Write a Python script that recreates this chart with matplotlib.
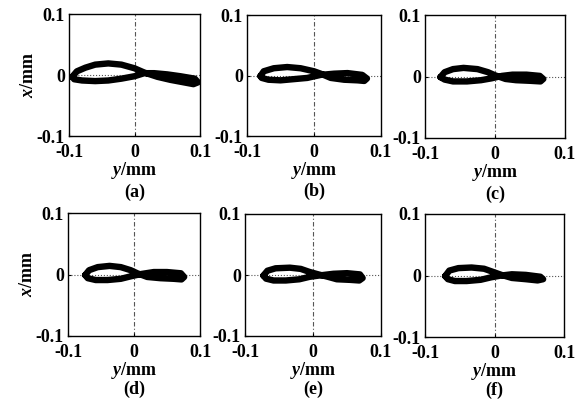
import matplotlib
matplotlib.use("Agg")
import matplotlib.pyplot as plt

plt.rcParams['font.family'] = ['Liberation Serif', 'DejaVu Serif']
plt.rcParams['font.weight'] = 'bold'
plt.rcParams['mathtext.fontset'] = 'custom'
plt.rcParams['mathtext.it'] = 'Liberation Serif:italic:bold'
plt.rcParams['mathtext.rm'] = 'Liberation Serif:bold'

# orbit traces: (y, x) in mm, one closed loop per panel
a_y = [-0.095, -0.088, -0.075, -0.060, -0.040, -0.020, 0.000, 0.015, 0.035, 0.055, 0.075, 0.090, 0.097,
       0.092, 0.070, 0.050, 0.030, 0.015, 0.000, -0.020, -0.040, -0.060, -0.080, -0.092, -0.095]
a_x = [-0.003, 0.006, 0.012, 0.017, 0.019, 0.017, 0.011, 0.004, -0.003, -0.008, -0.012, -0.015, -0.012,
       -0.006, -0.002, 0.001, 0.003, 0.003, -0.002, -0.006, -0.009, -0.010, -0.009, -0.007, -0.003]

b_y = [-0.080, -0.075, -0.060, -0.040, -0.020, 0.000, 0.010, 0.025, 0.045, 0.065, 0.075, 0.079,
       0.072, 0.050, 0.030, 0.010, -0.010, -0.030, -0.050, -0.068, -0.078, -0.080]
b_x = [-0.001, 0.007, 0.012, 0.014, 0.012, 0.007, 0.003, -0.004, -0.007, -0.008, -0.009, -0.005,
       0.001, 0.004, 0.003, 0.001, -0.004, -0.006, -0.008, -0.007, -0.004, -0.001]

c_y = [-0.078, -0.072, -0.060, -0.045, -0.025, -0.010, 0.000, 0.015, 0.030, 0.050, 0.065, 0.069,
       0.064, 0.045, 0.025, 0.010, -0.005, -0.020, -0.040, -0.060, -0.072, -0.078]
c_x = [-0.001, 0.007, 0.012, 0.014, 0.012, 0.007, 0.002, -0.004, -0.006, -0.007, -0.008, -0.004,
       0.001, 0.003, 0.003, 0.001, -0.003, -0.006, -0.008, -0.008, -0.005, -0.001]

d_y = [-0.074, -0.068, -0.055, -0.037, -0.020, -0.005, 0.005, 0.020, 0.040, 0.060, 0.072, 0.076,
       0.071, 0.050, 0.030, 0.012, -0.005, -0.020, -0.040, -0.058, -0.070, -0.074]
d_x = [-0.001, 0.007, 0.012, 0.014, 0.012, 0.007, 0.002, -0.004, -0.006, -0.007, -0.008, -0.004,
       0.002, 0.004, 0.004, 0.001, -0.003, -0.007, -0.009, -0.009, -0.006, -0.001]

e_y = [-0.073, -0.067, -0.055, -0.034, -0.018, -0.005, 0.008, 0.022, 0.035, 0.055, 0.068, 0.073,
       0.069, 0.050, 0.030, 0.015, -0.005, -0.020, -0.040, -0.058, -0.069, -0.073]
e_x = [-0.001, 0.007, 0.011, 0.012, 0.010, 0.005, 0.001, -0.003, -0.007, -0.008, -0.009, -0.005,
       0.001, 0.003, 0.002, 0.000, -0.003, -0.007, -0.009, -0.009, -0.006, -0.001]

f_y = [-0.071, -0.065, -0.052, -0.033, -0.015, 0.000, 0.010, 0.025, 0.045, 0.062, 0.070,
       0.066, 0.045, 0.025, 0.010, -0.005, -0.020, -0.040, -0.057, -0.067, -0.071]
f_x = [-0.001, 0.008, 0.012, 0.013, 0.011, 0.005, 0.001, -0.004, -0.006, -0.008, -0.006,
       -0.002, 0.001, 0.002, 0.000, -0.003, -0.007, -0.009, -0.009, -0.006, -0.001]

panels = ['(a)', '(b)', '(c)', '(d)', '(e)', '(f)']
traces = [(a_y, a_x), (b_y, b_x), (c_y, c_x), (d_y, d_x), (e_y, e_x), (f_y, f_x)]
ticks = [-0.1, 0, 0.1]
tick_labels = ['-0.1', '0', '0.1']

# axes boxes in pixels: left, top, right, bottom
boxes = [(69, 14, 200, 136), (247, 15, 381, 136), (425, 15, 565, 138),
         (68, 213, 200, 336), (245, 214, 381, 336), (425, 214, 564, 337)]

W, H = 577, 400
fig = plt.figure(figsize=(W / 100, H / 100), dpi=100)

for i in range(6):
    l, t, r, b = boxes[i]
    ax = fig.add_axes([l / W, 1 - b / H, (r - l) / W, (b - t) / H])
    ax.axhline(0, color='#555555', lw=0.8, ls=':', zorder=1)
    ax.axvline(0, color='#555555', lw=0.8, ls=(0, (4, 2, 1, 2)), zorder=1)
    ys, xs = traces[i]
    ax.plot(ys, xs, color='black', lw=4.6, solid_joinstyle='round',
            solid_capstyle='round', zorder=2)
    ax.set_xlim(-0.1, 0.1)
    ax.set_ylim(-0.1, 0.1)
    ax.set_xticks(ticks)
    ax.set_xticklabels(tick_labels)
    ax.set_yticks(ticks)
    ax.set_yticklabels(tick_labels)
    ax.tick_params(direction='in', length=2, labelsize=13)
    ax.tick_params(axis='x', pad=6)
    ax.tick_params(axis='y', pad=3)
    for s in ax.spines.values():
        s.set_linewidth(1.0)
    ax.set_xlabel(r'$y$/mm', fontsize=13, fontweight='bold', labelpad=-1)
    if i % 3 == 0:
        ax.set_ylabel(r'$x$/mm', fontsize=13, fontweight='bold', labelpad=0)
    ly = -0.46 if i < 3 else -0.435
    ax.text(0.5, ly, panels[i], transform=ax.transAxes, ha='center',
            va='center', fontsize=13, fontweight='bold')

fig.savefig('out.png', dpi=100)
